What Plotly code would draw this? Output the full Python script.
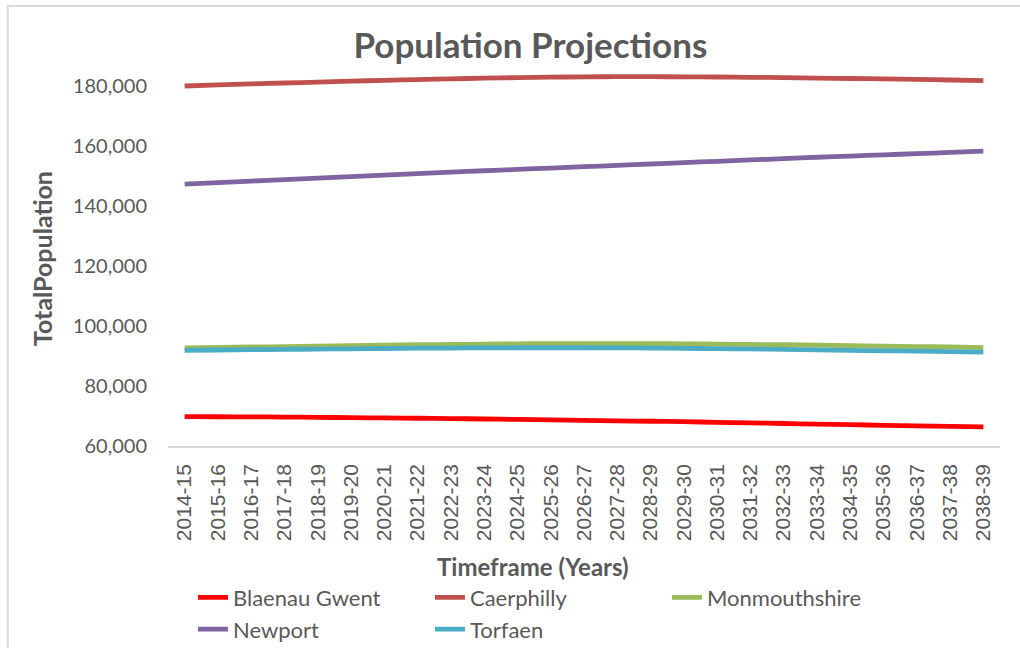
import plotly.graph_objects as go

years = ["2014-15", "2015-16", "2016-17", "2017-18", "2018-19", "2019-20", "2020-21",
         "2021-22", "2022-23", "2023-24", "2024-25", "2025-26", "2026-27", "2027-28",
         "2028-29", "2029-30", "2030-31", "2031-32", "2032-33", "2033-34", "2034-35",
         "2035-36", "2036-37", "2037-38", "2038-39"]

blaenau_gwent = [69800, 69750, 69700, 69650, 69550, 69450, 69350, 69250, 69150, 69000,
                 68850, 68700, 68550, 68400, 68250, 68100, 67900, 67700, 67500, 67300,
                 67100, 66900, 66700, 66550, 66400]
caerphilly = [180000, 180350, 180700, 181000, 181300, 181600, 181900, 182150, 182400, 182600,
              182800, 182950, 183050, 183100, 183100, 183050, 183000, 182900, 182800, 182650,
              182500, 182350, 182200, 182000, 181800]
monmouthshire = [92700, 92850, 93000, 93150, 93300, 93450, 93600, 93750, 93850, 93950,
                 94050, 94100, 94150, 94150, 94100, 94050, 93950, 93850, 93750, 93600,
                 93450, 93300, 93150, 93000, 92800]
newport = [147300, 147800, 148300, 148800, 149300, 149800, 150300, 150800, 151300, 151750,
           152200, 152650, 153100, 153550, 154000, 154450, 154900, 155350, 155800, 156250,
           156650, 157050, 157450, 157850, 158300]
torfaen = [91900, 92000, 92100, 92200, 92300, 92400, 92500, 92600, 92650, 92700,
           92750, 92750, 92750, 92700, 92650, 92550, 92450, 92350, 92200, 92050,
           91900, 91750, 91600, 91450, 91300]

series = [
    ("Blaenau Gwent", blaenau_gwent, "#FF0000"),
    ("Caerphilly", caerphilly, "#C0504D"),
    ("Monmouthshire", monmouthshire, "#9BBB59"),
    ("Newport", newport, "#8064A2"),
    ("Torfaen", torfaen, "#4BACC6"),
]

fig = go.Figure()
for name, vals, col in series:
    fig.add_trace(go.Scatter(x=years, y=vals, name=name, mode="lines",
                             line=dict(color=col, width=4.8, shape="spline", smoothing=0.6)))

grey = "#595959"
fig.update_layout(
    width=1020, height=648,
    margin=dict(l=168, r=20, t=56, b=202, autoexpand=False),
    paper_bgcolor="white", plot_bgcolor="white",
    font=dict(family="Lato, 'Open Sans', sans-serif", color=grey),
    title=dict(text="<b>Population Projections</b>", x=0.52, xanchor="center",
               y=0.93, yanchor="middle", font=dict(size=35, color=grey)),
    xaxis=dict(type="category", range=[-0.5, 24.5], showgrid=False, showline=True,
               linecolor="#D9D9D9", linewidth=1.5, ticks="", tickangle=-90,
               automargin=False, ticklabelstandoff=8,
               tickfont=dict(family="'Liberation Sans', Arial, sans-serif", size=21, color=grey)),
    yaxis=dict(range=[60000, 190000], tickvals=[60000, 80000, 100000, 120000, 140000, 160000, 180000],
               tickformat=",", showgrid=False, zeroline=False, showline=False, ticks="",
               automargin=False, ticklabelstandoff=20,
               tickfont=dict(size=20, color=grey)),
    legend=dict(orientation="h", x=0.03, xanchor="left", y=-0.335, yanchor="top",
                entrywidth=192, entrywidthmode="pixels",
                font=dict(size=22, color=grey), tracegroupgap=0),
    annotations=[
        dict(text="<b>Timeframe (Years)</b>", xref="paper", yref="paper",
             x=(533 - 168) / 832, y=(446 - 566) / 390, xanchor="center", yanchor="middle",
             showarrow=False, font=dict(size=24, color=grey)),
        dict(text="<b>TotalPopulation</b>", xref="paper", yref="paper",
             x=(42 - 168) / 832, y=(446 - 259) / 390, xanchor="center", yanchor="middle",
             textangle=-90, showarrow=False, font=dict(size=25, color=grey)),
    ],
    shapes=[dict(type="rect", xref="paper", yref="paper",
                 x0=-0.1925, x1=1.05, y0=-0.8, y1=1.128,
                 line=dict(color="#D9D9D9", width=2), fillcolor="rgba(0,0,0,0)", layer="below")],
)

fig.write_html("out.html", config={"displayModeBar": False},
               post_script="document.body.style.margin='0';document.body.style.overflow='hidden';")
